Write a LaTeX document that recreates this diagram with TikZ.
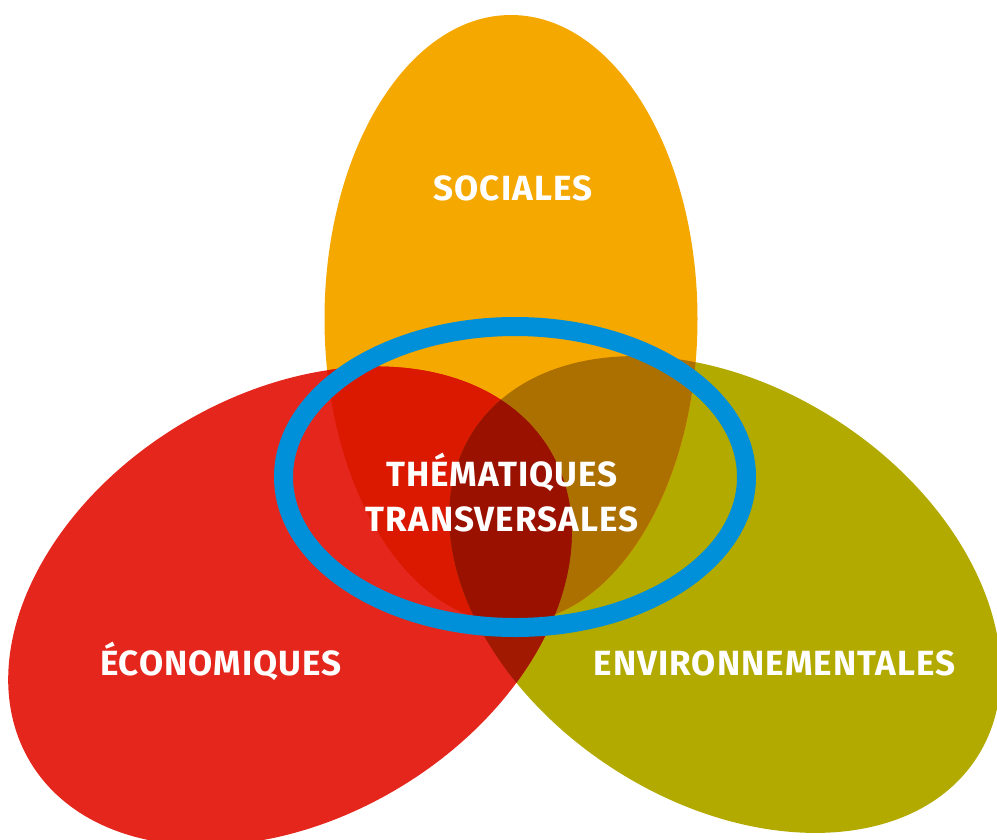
\documentclass[tikz,border=0pt]{standalone}
\usepackage{fontspec}
\setmainfont{Fira Sans}
\newfontfamily\lblfont{Fira Sans}[LetterSpace=3]
\definecolor{cO}{RGB}{245,168,0}
\definecolor{cR}{RGB}{228,38,29}
\definecolor{cG}{RGB}{179,170,0}
\definecolor{cRO}{RGB}{219,25,0}
\definecolor{cOG}{RGB}{172,112,0}
\definecolor{cRG}{RGB}{160,25,0}
\definecolor{cROG}{RGB}{154,17,0}
\definecolor{cBlue}{RGB}{0,144,218}
\def\pathO{(511,319) ellipse [x radius=186.5, y radius=304]}
\def\pathR{[rotate around={31:(290,606)}] (290,606) ellipse [x radius=303, y radius=212]}
\def\pathG{[rotate around={-33:(725,594.5)}] (725,594.5) ellipse [x radius=300, y radius=207]}
\tikzset{
  lbl/.style={text=white, font=\lblfont\fontsize{35}{45}\selectfont\bfseries, inner sep=0pt},
  ring/.style={draw=cBlue, line width=19pt}
}
\begin{document}
\begin{tikzpicture}[x=1pt,y=-1pt]
\useasboundingbox (0,0) rectangle (997,839);
\fill[cG] \pathG;
\fill[cO] \pathO;
\fill[cR] \pathR;
\begin{scope}\clip \pathR; \fill[cRO] \pathO; \end{scope}
\begin{scope}\clip \pathO; \fill[cOG] \pathG; \end{scope}
\begin{scope}\clip \pathR; \fill[cRG] \pathG; \end{scope}
\begin{scope}\clip \pathR; \clip \pathO; \fill[cROG] \pathG; \end{scope}
\draw[ring] (515,477) ellipse [x radius=231.5, y radius=150.5];
\node[lbl, anchor=base] (soc) at (513,200) {SOCIALES};
\node[lbl, anchor=base] (eco) at (221,675) {ÉCONOMIQUES};
\node[lbl, anchor=base] (env) at (774.5,675) {ENVIRONNEMENTALES};
\node[lbl, align=center] (them) at (502,493) {THÉMATIQUES\\TRANSVERSALES};
\end{tikzpicture}
\end{document}
